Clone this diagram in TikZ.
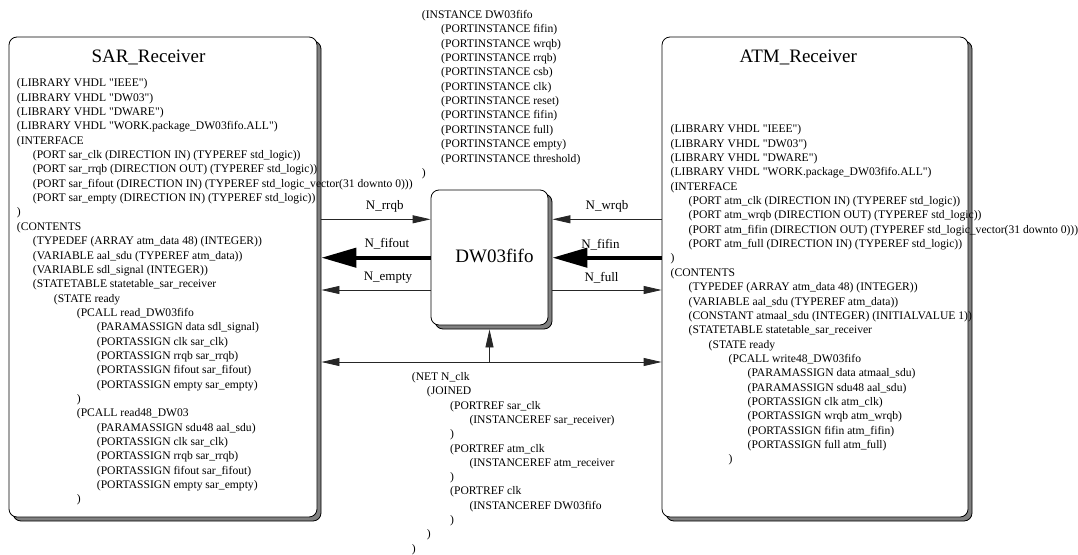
\documentclass[tikz,border=0pt]{standalone}
\usepackage{fontspec}
\setmainfont{Liberation Serif}
\newfontfamily\edifont{Liberation Serif}
\usetikzlibrary{arrows.meta,calc,shadows}
\tikzset{
    every picture/.style={line join=round},
    blockbox/.style={draw=black,fill=white,line width=0.8pt,rounded corners=8pt,
      inner sep=0pt,
      drop shadow={shadow xshift=4pt,shadow yshift=-4pt,fill=black!50,draw=black,opacity=1}},
    blocktitle/.style={font=\fontsize{19}{22}\selectfont,anchor=base,inner sep=0pt},
    codeline/.style={font=\edifont\fontsize{11.6}{14}\selectfont,anchor=base west,inner sep=0pt},
    netlabel/.style={font=\fontsize{13}{15}\selectfont,inner sep=0pt,yshift=12.5pt},
    thinnet/.style={draw=black!85,line width=0.8pt,-{Triangle[length=18pt,width=8pt]}},
    busnet/.style={draw=black,line width=4.3pt,-{Triangle[length=35pt,width=19pt]}},
    clknet/.style={draw=black!85,line width=0.8pt,
      {Triangle[length=18pt,width=8pt]}-{Triangle[length=18pt,width=8pt]}}
}
\begin{document}
\begin{tikzpicture}[x=1pt,y=-1pt]
  \useasboundingbox (0,0) rectangle (1078,554);

  \node[blockbox,minimum width=308pt,minimum height=480pt] (sar) at (163,277) {};
  \node[blockbox,minimum width=306pt,minimum height=480pt] (atm) at (815,277) {};
  \node[blockbox,minimum width=117pt,minimum height=135pt] (fifo) at (489.5,257.5) {};

  \node[blocktitle] (sartitle) at (148.5,62.3) {SAR\_Receiver};
  \node[blocktitle] (atmtitle) at (798.3,62) {ATM\_Receiver};
  \node[blocktitle] (fifotitle) at (494.5,262.3) {DW03fifo};

  \foreach \dx/\txt [count=\i from 0] in {
      0/{(LIBRARY VHDL "IEEE")},
      0/{(LIBRARY VHDL "DW03")},
      0/{(LIBRARY VHDL "DWARE")},
      0/{(LIBRARY VHDL "WORK.package\_DW03fifo.ALL")},
      0/{(INTERFACE},
      16/{(PORT sar\_clk (DIRECTION IN) (TYPEREF std\_logic))},
      16/{(PORT sar\_rrqb (DIRECTION OUT) (TYPEREF std\_logic))},
      16/{(PORT sar\_fifout (DIRECTION IN) (TYPEREF std\_logic\_vector(31 downto 0)))},
      16/{(PORT sar\_empty (DIRECTION IN) (TYPEREF std\_logic))},
      0/{)},
      0/{(CONTENTS},
      16/{(TYPEDEF (ARRAY atm\_data 48) (INTEGER))},
      16/{(VARIABLE aal\_sdu (TYPEREF atm\_data))},
      16/{(VARIABLE sdl\_signal (INTEGER))},
      16/{(STATETABLE statetable\_sar\_receiver},
      37/{(STATE ready},
      60/{(PCALL read\_DW03fifo},
      80/{(PARAMASSIGN data sdl\_signal)},
      80/{(PORTASSIGN clk sar\_clk)},
      80/{(PORTASSIGN rrqb sar\_rrqb)},
      80/{(PORTASSIGN fifout sar\_fifout)},
      80/{(PORTASSIGN empty sar\_empty)},
      60/{)},
      60/{(PCALL read48\_DW03},
      80/{(PARAMASSIGN sdu48 aal\_sdu)},
      80/{(PORTASSIGN clk sar\_clk)},
      80/{(PORTASSIGN rrqb sar\_rrqb)},
      80/{(PORTASSIGN fifout sar\_fifout)},
      80/{(PORTASSIGN empty sar\_empty)},
      60/{)}}
    \node[codeline] (sarline\i) at (16.7+\dx,86.8+14.35*\i) {\txt};

  \foreach \dx/\txt [count=\i from 0] in {
      0/{(LIBRARY VHDL "IEEE")},
      0/{(LIBRARY VHDL "DW03")},
      0/{(LIBRARY VHDL "DWARE")},
      0/{(LIBRARY VHDL "WORK.package\_DW03fifo.ALL")},
      0/{(INTERFACE},
      18/{(PORT atm\_clk (DIRECTION IN) (TYPEREF std\_logic))},
      18/{(PORT atm\_wrqb (DIRECTION OUT) (TYPEREF std\_logic))},
      18/{(PORT atm\_fifin (DIRECTION OUT) (TYPEREF std\_logic\_vector(31 downto 0)))},
      18/{(PORT atm\_full (DIRECTION IN) (TYPEREF std\_logic))},
      0/{)},
      0/{(CONTENTS},
      18/{(TYPEDEF (ARRAY atm\_data 48) (INTEGER))},
      18/{(VARIABLE aal\_sdu (TYPEREF atm\_data))},
      18/{(CONSTANT atmaal\_sdu (INTEGER) (INITIALVALUE 1))},
      18/{(STATETABLE statetable\_sar\_receiver},
      38/{(STATE ready},
      58/{(PCALL write48\_DW03fifo},
      77/{(PARAMASSIGN data atmaal\_sdu)},
      77/{(PARAMASSIGN sdu48 aal\_sdu)},
      77/{(PORTASSIGN clk atm\_clk)},
      77/{(PORTASSIGN wrqb atm\_wrqb)},
      77/{(PORTASSIGN fifin atm\_fifin)},
      77/{(PORTASSIGN full atm\_full)},
      58/{)}}
    \node[codeline] (atmline\i) at (670.5+\dx,132.8+14.35*\i) {\txt};

  \foreach \dx/\txt [count=\i from 0] in {
      0/{(INSTANCE DW03fifo},
      19.3/{(PORTINSTANCE fifin)},
      19.3/{(PORTINSTANCE wrqb)},
      19.3/{(PORTINSTANCE rrqb)},
      19.3/{(PORTINSTANCE csb)},
      19.3/{(PORTINSTANCE clk)},
      19.3/{(PORTINSTANCE reset)},
      19.3/{(PORTINSTANCE fifin)},
      19.3/{(PORTINSTANCE full)},
      19.3/{(PORTINSTANCE empty)},
      19.3/{(PORTINSTANCE threshold)},
      0/{)}}
    \node[codeline] (instline\i) at (421.7+\dx,18.5+14.35*\i) {\txt};

  \foreach \dx/\txt [count=\i from 0] in {
      0/{(NET N\_clk},
      15/{(JOINED},
      38.3/{(PORTREF sar\_clk},
      57.6/{(INSTANCEREF sar\_receiver)},
      38.3/{)},
      38.3/{(PORTREF atm\_clk},
      57.6/{(INSTANCEREF atm\_receiver},
      38.3/{)},
      38.3/{(PORTREF clk},
      57.6/{(INSTANCEREF DW03fifo},
      38.3/{)},
      15/{)},
      0/{)}}
    \node[codeline] (netline\i) at (411.7+\dx,380.5+14.3*\i) {\txt};

  \coordinate (rowrq) at (0,219.3);
  \coordinate (rowbus) at (0,257.7);
  \coordinate (rowflag) at (0,290);
  \coordinate (rowclk) at (0,362);

  \draw[thinnet] ($(sar.east |- rowrq)+(4,0)$) --
    node[netlabel,pos=0.58]{N\_rrqb} (fifo.west |- rowrq);
  \draw[busnet] (fifo.west |- rowbus) --
    node[netlabel,pos=0.40,yshift=1.5pt]{N\_fifout} ($(sar.east |- rowbus)+(4,0)$);
  \draw[thinnet] (fifo.west |- rowflag) --
    node[netlabel,pos=0.39]{N\_empty} ($(sar.east |- rowflag)+(4,0)$);

  \draw[thinnet] (atm.west |- rowrq) --
    node[netlabel,pos=0.50]{N\_wrqb} ($(fifo.east |- rowrq)+(4,0)$);
  \draw[busnet] (atm.west |- rowbus) --
    node[netlabel,pos=0.56]{N\_fifin} ($(fifo.east |- rowbus)+(4,0)$);
  \draw[thinnet] ($(fifo.east |- rowflag)+(4,0)$) --
    node[netlabel,pos=0.45]{N\_full} (atm.west |- rowflag);

  \draw[clknet] ($(sar.east |- rowclk)+(4,0)$) -- (atm.west |- rowclk);
  \draw[thinnet] (fifo.south |- rowclk) -- ($(fifo.south)+(0,4)$);
\end{tikzpicture}
\end{document}
